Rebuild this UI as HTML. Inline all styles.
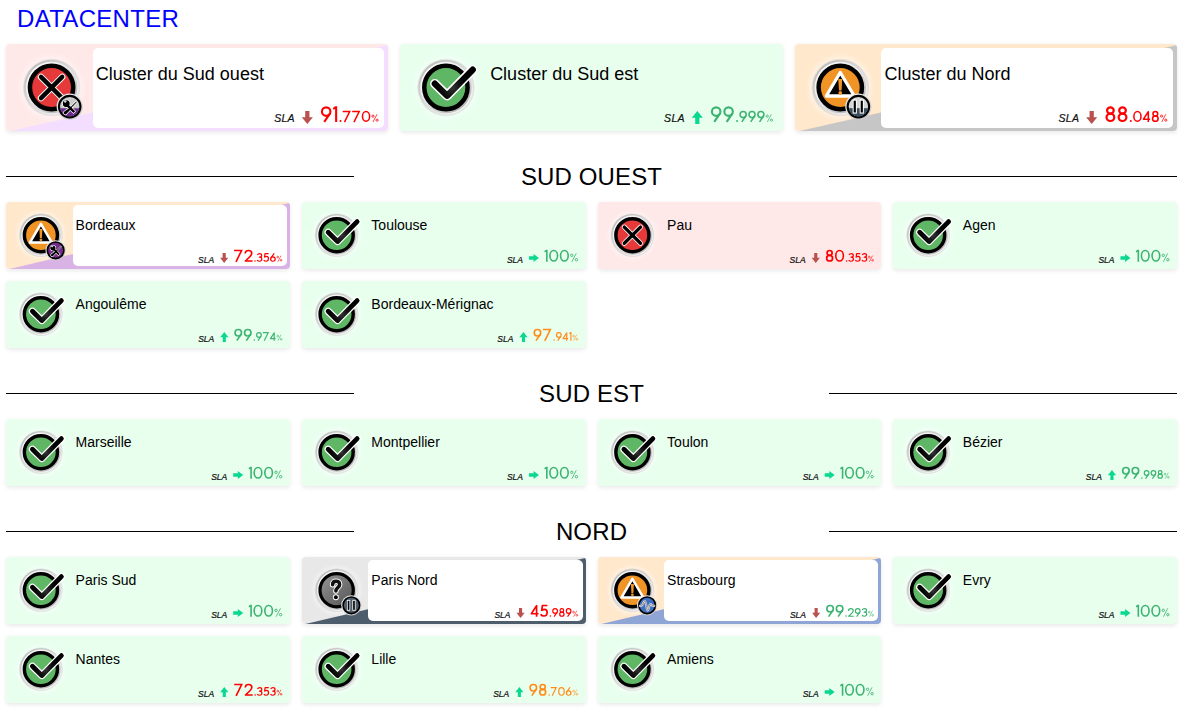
<!DOCTYPE html>
<html lang="fr"><head><meta charset="utf-8"><title>Datacenter</title>
<style>
html,body{margin:0;padding:0;background:#fff}
body{width:1183px;height:712px;overflow:hidden;position:relative;font-family:"Liberation Sans",sans-serif;color:#000;font-kerning:none}
.title{position:absolute;left:17px;top:5px;font-size:24px;line-height:28px;color:#0000ff;white-space:nowrap;letter-spacing:.3px;font-kerning:normal}
.card{position:absolute;border-radius:4px;box-shadow:0 1.5px 4px rgba(0,0,0,.085);box-sizing:border-box}
.cl{width:382.33px;height:87px}
.sm{width:283.75px;height:67px}
.in{position:absolute;background:#fff;border-radius:5px}
.cl .in{left:86.5px;top:4px;right:4px;bottom:3px}
.sm .in{left:66.6px;top:3px;right:2.8px;bottom:2.8px}
.nm{position:absolute;white-space:nowrap;font-kerning:normal}
.cl .nm{left:89.8px;top:20px;font-size:18px;line-height:21px}
.sm .nm{left:69.6px;top:15px;font-size:14px;line-height:16px}
.l{position:absolute;font-style:italic;color:#111;white-space:nowrap;-webkit-text-stroke:.22px #111}
.cl .l{font-size:10.5px;line-height:12px;letter-spacing:.3px;top:68.0px;margin-right:-.3px}
.sm .l{font-size:8.5px;line-height:10px;letter-spacing:0;top:52.5px}
.ov{position:absolute;left:0;top:0;overflow:visible;pointer-events:none}
.sep{position:absolute;left:0;width:1183px;height:59px;text-align:center;font-size:24px}
.sep span{position:absolute;left:0;width:1183px;top:26px;line-height:28px;letter-spacing:.13px}
.ln{position:absolute;top:39px;height:1px;background:#000;width:347.7px}
.ln.l{left:6px}.ln.r{right:6px}

</style></head>
<body>
<svg width="0" height="0" style="position:absolute">
<defs>
<linearGradient id="g-ring" x1="0.15" y1="0.1" x2="0.85" y2="0.9"><stop offset="0" stop-color="#bebebe"/><stop offset="0.5" stop-color="#dcdcdc"/><stop offset="1" stop-color="#f4f4f4"/></linearGradient>
<linearGradient id="g-ring2" x1="0.15" y1="0.1" x2="0.85" y2="0.9"><stop offset="0" stop-color="#fafafa"/><stop offset="0.5" stop-color="#e6e6e6"/><stop offset="1" stop-color="#b2b2b2"/></linearGradient>
<radialGradient id="g-glow"><stop offset="0.76" stop-color="#fff" stop-opacity="0.5"/><stop offset="1" stop-color="#fff" stop-opacity="0"/></radialGradient>
<radialGradient id="g-chk" gradientUnits="userSpaceOnUse" cx="6" cy="0" r="15"><stop offset="0" stop-color="#363636"/><stop offset="0.5" stop-color="#141414"/><stop offset="1" stop-color="#000"/></radialGradient>
<radialGradient id="g-soft"><stop offset="0.9" stop-color="#9a9a9a" stop-opacity="0.55"/><stop offset="1" stop-color="#9a9a9a" stop-opacity="0"/></radialGradient>
<g id="base"><circle r="35" fill="url(#g-glow)"/><circle r="29.2" fill="url(#g-soft)"/><circle r="27.5" fill="url(#g-ring)"/><circle r="25.7" fill="url(#g-ring2)"/></g>
<g id="i-ok"><use href="#base"/><circle r="21.65" fill="#5fb766" stroke="#000" stroke-width="4.5"/>
<polyline points="-11.1,-3.8 1.2,8.2 26.8,-17.8" fill="none" stroke="#fff" stroke-width="9.5" stroke-linecap="round" stroke-linejoin="round"/>
<polyline points="-11.1,-3.8 1.2,8.2 26.8,-17.8" fill="none" stroke="url(#g-chk)" stroke-width="6.3" stroke-linecap="round" stroke-linejoin="round"/></g>
<g id="i-crit"><use href="#base"/><circle r="21.65" fill="#e6393a" stroke="#000" stroke-width="4.5"/>
<path d="M-10.6,-10.6L10.6,10.6M10.6,-10.6L-10.6,10.6" fill="none" stroke="#fff" stroke-width="6.4" stroke-linecap="round"/>
<path d="M-10.6,-10.6L10.6,10.6M10.6,-10.6L-10.6,10.6" fill="none" stroke="#000" stroke-width="4.4" stroke-linecap="round"/></g>
<g id="i-warn"><use href="#base"/><circle r="21.65" fill="#f09426" stroke="#000" stroke-width="4.5"/>
<path d="M0,-15L14,8.5H-14Z" fill="#000" stroke="#fff" stroke-width="3.3" stroke-linejoin="round"/>
<path d="M-2,-8.6h4l-0.7,11.6h-2.6z" fill="#f09426"/><circle cx="0" cy="5.3" r="1.85" fill="#f09426"/></g>
<g id="i-warn-s"><use href="#base"/><circle r="21.65" fill="#f09426" stroke="#000" stroke-width="4.5"/>
<path d="M0,-14.8L14.4,9.6H-14.4Z" fill="#000" stroke="#fff" stroke-width="3.3" stroke-linejoin="round"/>
<path d="M-2,-8.1h4l-0.7,11.8h-2.6z" fill="#f09426"/><circle cx="0" cy="6.1" r="1.85" fill="#f09426"/></g>
<linearGradient id="g-unk" x1="0.15" y1="0.1" x2="0.85" y2="0.9"><stop offset="0" stop-color="#8e8e8e"/><stop offset="0.5" stop-color="#747474"/><stop offset="1" stop-color="#5c5c5c"/></linearGradient>
<g id="i-unk"><use href="#base"/><circle r="21.8" fill="url(#g-unk)" stroke="#000" stroke-width="4.2"/>
<path d="M-5.3,-7.2C-5.3,-10.4 -3.2,-11.7 -0.7,-11.7C2.2,-11.7 3.9,-10 3.9,-7.6C3.9,-3.6 -1,-3.3 -1,1.2" fill="none" stroke="#fff" stroke-width="7.2" stroke-linecap="round"/><circle cx="-1" cy="9.3" r="3.9" fill="#fff"/>
<path d="M-5.3,-7.2C-5.3,-10.4 -3.2,-11.7 -0.7,-11.7C2.2,-11.7 3.9,-10 3.9,-7.6C3.9,-3.6 -1,-3.3 -1,1.2" fill="none" stroke="#111" stroke-width="4.6" stroke-linecap="round"/><circle cx="-1" cy="9.3" r="2.6" fill="#000"/></g>
<linearGradient id="g-bring" x1="0.2" y1="0" x2="0.8" y2="1"><stop offset="0" stop-color="#f4f4f4"/><stop offset="1" stop-color="#c4c4c4"/></linearGradient>
<clipPath id="bclip"><circle r="9.8"/></clipPath>
<g id="tools-shape">
<path d="M-2.2,-3.6L5.2,3.8L3.4,5.6L-4,-1.8Z"/>
<path d="M-6.9,-4.2A3.3,3.3 0 1 0 -2.6,-6.9L-4.4,-5.1L-5.1,-3.6Z M-4.2,-7.3"/>
<circle cx="-4.1" cy="-4.1" r="3.1"/>
<path d="M6.3,-6.1L6.9,-5.5L1.2,0.6L0.4,-0.2Z"/>
<path d="M0.9,-0.6L2,0.5L-3.4,6.3A1.6,1.6 0 0 1 -5.9,4.2Z"/>
</g>
<g id="tools-glyph" transform="translate(0.3,0.9)"><use href="#tools-shape" fill="#fff" stroke="#fff" stroke-width="1.3" stroke-linejoin="round"/><use href="#tools-shape" fill="#000"/><path d="M-4.9,-7.6L-3.2,-5.9L-4.9,-4.6L-6.4,-6.1Z" fill="#d4d4d4"/></g>
<g id="pause-glyph"><rect x="-5.7" y="-7" width="4.2" height="14" fill="#fff"/><rect x="1.3" y="-7" width="4.2" height="14" fill="#fff"/><rect x="-4.7" y="-5.9" width="2.2" height="11.8" fill="#000"/><rect x="2.3" y="-5.9" width="2.2" height="11.8" fill="#000"/></g>
<g id="b-tools"><circle r="13.1" fill="url(#g-bring)"/><circle r="10.75" fill="#762b8c" stroke="#000" stroke-width="2.1"/><use href="#tools-glyph"/></g>
<g id="b-tools-part"><circle r="13.1" fill="url(#g-bring)"/><circle r="10.75" fill="#cbcbcb" stroke="#000" stroke-width="2.1"/><rect x="-10" y="1.7" width="20" height="9" fill="#6c2a8c" clip-path="url(#bclip)"/><use href="#tools-glyph"/></g>
<g id="b-pause"><circle r="13.1" fill="url(#g-bring)"/><circle r="10.75" fill="#4e5d6c" stroke="#000" stroke-width="2.1"/><use href="#pause-glyph"/></g>
<g id="b-pause-part"><circle r="13.1" fill="url(#g-bring)"/><circle r="10.75" fill="#d6d6d6" stroke="#000" stroke-width="2.1"/><rect x="-10" y="1.6" width="20" height="9" fill="#3b4f60" clip-path="url(#bclip)"/><use href="#pause-glyph"/></g>
<g id="b-wave"><circle r="13.1" fill="url(#g-bring)"/><circle r="10.75" fill="#3f6fc2" stroke="#000" stroke-width="2.1"/>
<path d="M-9.4,0.7H-7.4C-5.2,0.7 -4.8,-5.6 -3,-5.6C-1,-5.6 -0.9,6.9 0.8,6.9C2.5,6.9 2.6,-1.5 4.3,-1.5C5.6,-1.5 5.8,0.7 7.4,0.7H9.4" fill="none" stroke="#e4e4e4" stroke-width="2.8" stroke-linecap="round"/>
<path d="M-9.4,0.7H-7.4C-5.2,0.7 -4.8,-5.6 -3,-5.6C-1,-5.6 -0.9,6.9 0.8,6.9C2.5,6.9 2.6,-1.5 4.3,-1.5C5.6,-1.5 5.8,0.7 7.4,0.7H9.4" fill="none" stroke="#555" stroke-width="0.8" stroke-linecap="round"/></g>
<g id="d0"><ellipse cx="267.5" cy="350" rx="220.5" ry="303" fill="none" stroke="currentColor" stroke-width="94"/></g>
<g id="d1"><path d="M98,0H190V700H98V118L22,158L0,78Z" fill="currentColor"/></g>
<g id="d2"><g transform="scale(1.02,1)"><path d="M50,225C50,120 130,47 240,47C350,47 422,118 422,208C422,290 378,345 300,420L62,653H470" fill="none" stroke="currentColor" stroke-width="94" stroke-linejoin="round"/></g></g>
<g id="d3"><g transform="scale(1.055,1)"><path d="M45,150C80,85 140,47 212,47C312,47 372,105 372,188C372,272 308,328 200,328C322,328 383,395 383,480C383,580 310,653 205,653C120,653 58,612 28,548" fill="none" stroke="currentColor" stroke-width="94" stroke-linejoin="round"/></g></g>
<g id="d4"><g transform="scale(1.035,1)"><path d="M342,700V52L52,522H450" fill="none" stroke="currentColor" stroke-width="94" stroke-linejoin="round"/></g></g>
<g id="d5"><g transform="scale(1.055,1)"><path d="M398,47H122L88,322C130,287 185,268 243,268C335,268 383,345 383,455C383,570 312,653 205,653C120,653 60,615 26,552" fill="none" stroke="currentColor" stroke-width="94" stroke-linejoin="round"/></g></g>
<g id="d6"><g transform="scale(1.05,1)"><path d="M322,10L78,380" fill="none" stroke="currentColor" stroke-width="94" /><circle cx="220" cy="480" r="173" fill="none" stroke="currentColor" stroke-width="94"/></g></g>
<g id="d7"><path d="M0,47H432L112,700" fill="none" stroke="currentColor" stroke-width="94" /></g>
<g id="d8"><g transform="scale(1.05,1)"><circle cx="217.5" cy="187" r="140" fill="none" stroke="currentColor" stroke-width="94"/><circle cx="217.5" cy="489" r="164" fill="none" stroke="currentColor" stroke-width="94"/></g></g>
<g id="d9"><circle cx="235" cy="235" r="188" fill="none" stroke="currentColor" stroke-width="94"/><path d="M392,338L150,690" fill="none" stroke="currentColor" stroke-width="94" /></g>
<g id="ddot"><circle cx="62" cy="638" r="62" fill="currentColor"/></g>
<g id="dpct"><circle cx="140" cy="172" r="98" fill="none" stroke="currentColor" stroke-width="72"/><circle cx="515" cy="528" r="98" fill="none" stroke="currentColor" stroke-width="72"/><path d="M505,8L150,692" fill="none" stroke="currentColor" stroke-width="66"/></g>

</defs></svg>

<a class="title">DATACENTER</a>
<div class="card cl" style="left:6.00px;top:44px;background:linear-gradient(to bottom right,#ffe8e8 calc(50.6% - .5px),#f3deff calc(50.6% + .5px));"><div class="in"></div><div class="nm">Cluster du Sud ouest</div><span class="l" style="right:93.75px">SLA</span></div>
<div class="card cl" style="left:400.33px;top:44px;background:#e8ffee;"><div class="nm">Cluster du Sud est</div><span class="l" style="right:98.10px">SLA</span></div>
<div class="card cl" style="left:794.67px;top:44px;background:linear-gradient(to bottom right,#ffe8cc calc(50.6% - .5px),#c6c6c6 calc(50.6% + .5px));"><div class="in"></div><div class="nm">Cluster du Nord</div><span class="l" style="right:98.06px">SLA</span></div>
<div class="sep" style="top:137px"><i class="ln l"></i><span>SUD OUEST</span><i class="ln r"></i></div>
<div class="card sm" style="left:6.00px;top:202px;background:linear-gradient(to bottom right,#ffe8cc calc(50.6% - .5px),#d9b3e6 calc(50.6% + .5px));"><div class="in"></div><div class="nm">Bordeaux</div><span class="l" style="right:75.67px">SLA</span></div>
<div class="card sm" style="left:301.75px;top:202px;background:#e8ffee;"><div class="nm">Toulouse</div><span class="l" style="right:62.56px">SLA</span></div>
<div class="card sm" style="left:597.50px;top:202px;background:#ffe8e8;"><div class="nm">Pau</div><span class="l" style="right:75.59px">SLA</span></div>
<div class="card sm" style="left:893.25px;top:202px;background:#e8ffee;"><div class="nm">Agen</div><span class="l" style="right:62.56px">SLA</span></div>
<div class="card sm" style="left:6.00px;top:281px;background:#e8ffee;"><div class="nm">Angoulême</div><span class="l" style="right:75.55px">SLA</span></div>
<div class="card sm" style="left:301.75px;top:281px;background:#e8ffee;"><div class="nm">Bordeaux-Mérignac</div><span class="l" style="right:72.10px">SLA</span></div>
<div class="sep" style="top:354px"><i class="ln l"></i><span>SUD EST</span><i class="ln r"></i></div>
<div class="card sm" style="left:6.00px;top:419px;background:#e8ffee;"><div class="nm">Marseille</div><span class="l" style="right:62.56px">SLA</span></div>
<div class="card sm" style="left:301.75px;top:419px;background:#e8ffee;"><div class="nm">Montpellier</div><span class="l" style="right:62.56px">SLA</span></div>
<div class="card sm" style="left:597.50px;top:419px;background:#e8ffee;"><div class="nm">Toulon</div><span class="l" style="right:62.56px">SLA</span></div>
<div class="card sm" style="left:893.25px;top:419px;background:#e8ffee;"><div class="nm">Bézier</div><span class="l" style="right:75.14px">SLA</span></div>
<div class="sep" style="top:492px"><i class="ln l"></i><span>NORD</span><i class="ln r"></i></div>
<div class="card sm" style="left:6.00px;top:557px;background:#e8ffee;"><div class="nm">Paris Sud</div><span class="l" style="right:62.56px">SLA</span></div>
<div class="card sm" style="left:301.75px;top:557px;background:linear-gradient(to bottom right,#e8e8e8 calc(50.6% - .5px),#4e5d6c calc(50.6% + .5px));"><div class="in"></div><div class="nm">Paris Nord</div><span class="l" style="right:75.04px">SLA</span></div>
<div class="card sm" style="left:597.50px;top:557px;background:linear-gradient(to bottom right,#ffe8cc calc(50.6% - .5px),#8fa5d6 calc(50.6% + .5px));"><div class="in"></div><div class="nm">Strasbourg</div><span class="l" style="right:75.22px">SLA</span></div>
<div class="card sm" style="left:893.25px;top:557px;background:#e8ffee;"><div class="nm">Evry</div><span class="l" style="right:62.56px">SLA</span></div>
<div class="card sm" style="left:6.00px;top:636px;background:#e8ffee;"><div class="nm">Nantes</div><span class="l" style="right:75.57px">SLA</span></div>
<div class="card sm" style="left:301.75px;top:636px;background:#e8ffee;"><div class="nm">Lille</div><span class="l" style="right:76.24px">SLA</span></div>
<div class="card sm" style="left:597.50px;top:636px;background:#e8ffee;"><div class="nm">Amiens</div><span class="l" style="right:62.56px">SLA</span></div>
<svg class="ov" width="1183" height="712" viewBox="0 0 1183 712">
<use href="#i-crit" transform="translate(51.60,87.50) scale(1.0)"/>
<use href="#b-tools-part" transform="translate(69.70,106.60) scale(1.0)"/>
<g fill="#ff0000" style="color:#ff0000"><use href="#d9" transform="translate(320.88,106.30) scale(0.02257)"/><use href="#d1" transform="translate(332.89,106.30) scale(0.02257)"/><use href="#ddot" transform="translate(339.48,110.80) scale(0.01614)"/><use href="#d7" transform="translate(342.70,110.80) scale(0.01614)"/><use href="#d7" transform="translate(352.18,110.80) scale(0.01614)"/><use href="#d0" transform="translate(361.72,110.80) scale(0.01614)"/><use href="#dpct" transform="translate(371.34,114.20) scale(0.01129)"/></g>
<path d="M305.21,111.00L309.45,111.00L309.45,117.20L312.88,117.20L307.33,124.00L301.78,117.20L305.21,117.20Z" fill="#b9514f"/>
<use href="#i-ok" transform="translate(445.93,87.50) scale(1.0)"/>
<g fill="#3cb371" style="color:#3cb371"><use href="#d9" transform="translate(710.87,106.30) scale(0.02257)"/><use href="#d9" transform="translate(723.28,106.30) scale(0.02257)"/><use href="#ddot" transform="translate(736.05,110.80) scale(0.01614)"/><use href="#d9" transform="translate(739.35,110.80) scale(0.01614)"/><use href="#d9" transform="translate(748.22,110.80) scale(0.01614)"/><use href="#d9" transform="translate(757.10,110.80) scale(0.01614)"/><use href="#dpct" transform="translate(765.67,114.20) scale(0.01129)"/></g>
<path d="M695.20,124.00L699.44,124.00L699.44,117.80L702.87,117.80L697.32,111.00L691.77,117.80L695.20,117.80Z" fill="#0ad890"/>
<use href="#i-warn" transform="translate(840.27,87.50) scale(1.0)"/>
<use href="#b-pause-part" transform="translate(858.37,106.60) scale(1.0)"/>
<g fill="#ff0000" style="color:#ff0000"><use href="#d8" transform="translate(1105.24,106.30) scale(0.02257)"/><use href="#d8" transform="translate(1117.36,106.30) scale(0.02257)"/><use href="#ddot" transform="translate(1129.83,110.80) scale(0.01614)"/><use href="#d0" transform="translate(1133.12,110.80) scale(0.01614)"/><use href="#d4" transform="translate(1142.60,110.80) scale(0.01614)"/><use href="#d8" transform="translate(1151.65,110.80) scale(0.01614)"/><use href="#dpct" transform="translate(1160.01,114.20) scale(0.01129)"/></g>
<path d="M1089.57,111.00L1093.81,111.00L1093.81,117.20L1097.24,117.20L1091.69,124.00L1086.14,117.20L1089.57,117.20Z" fill="#b9514f"/>
<use href="#i-warn-s" transform="translate(40.90,235.20) scale(0.764)"/>
<use href="#b-tools" transform="translate(55.60,250.30) scale(0.771)"/>
<g fill="#ff0000" style="color:#ff0000"><use href="#d7" transform="translate(234.08,249.70) scale(0.01729)"/><use href="#d2" transform="translate(244.30,249.70) scale(0.01729)"/><use href="#ddot" transform="translate(254.24,253.10) scale(0.01243)"/><use href="#d3" transform="translate(256.78,253.10) scale(0.01243)"/><use href="#d5" transform="translate(263.41,253.10) scale(0.01243)"/><use href="#d6" transform="translate(270.04,253.10) scale(0.01243)"/><use href="#dpct" transform="translate(276.55,255.60) scale(0.00886)"/></g>
<path d="M222.61,253.10L225.75,253.10L225.75,257.77L228.28,257.77L224.18,262.90L220.08,257.77L222.61,257.77Z" fill="#b9514f"/>
<use href="#i-ok" transform="translate(336.65,235.20) scale(0.764)"/>
<g fill="#3cb371" style="color:#3cb371"><use href="#d1" transform="translate(544.34,249.70) scale(0.01729)"/><use href="#d0" transform="translate(549.11,249.70) scale(0.01729)"/><use href="#d0" transform="translate(559.75,249.70) scale(0.01729)"/><use href="#dpct" transform="translate(570.05,253.20) scale(0.01229)"/></g>
<path d="M528.94,256.15L528.94,259.65L533.56,259.65L533.56,261.90L538.94,257.90L533.56,253.90L533.56,256.15Z" fill="#0ad890"/>
<use href="#i-crit" transform="translate(632.40,235.20) scale(0.764)"/>
<g fill="#ff0000" style="color:#ff0000"><use href="#d8" transform="translate(825.66,249.70) scale(0.01729)"/><use href="#d0" transform="translate(834.94,249.70) scale(0.01729)"/><use href="#ddot" transform="translate(845.85,253.10) scale(0.01243)"/><use href="#d3" transform="translate(848.38,253.10) scale(0.01243)"/><use href="#d5" transform="translate(855.01,253.10) scale(0.01243)"/><use href="#d3" transform="translate(861.65,253.10) scale(0.01243)"/><use href="#dpct" transform="translate(868.05,255.60) scale(0.00886)"/></g>
<path d="M814.19,253.10L817.33,253.10L817.33,257.77L819.86,257.77L815.76,262.90L811.66,257.77L814.19,257.77Z" fill="#b9514f"/>
<use href="#i-ok" transform="translate(928.15,235.20) scale(0.764)"/>
<g fill="#3cb371" style="color:#3cb371"><use href="#d1" transform="translate(1135.84,249.70) scale(0.01729)"/><use href="#d0" transform="translate(1140.61,249.70) scale(0.01729)"/><use href="#d0" transform="translate(1151.24,249.70) scale(0.01729)"/><use href="#dpct" transform="translate(1161.55,253.20) scale(0.01229)"/></g>
<path d="M1120.44,256.15L1120.44,259.65L1125.06,259.65L1125.06,261.90L1130.44,257.90L1125.06,253.90L1125.06,256.15Z" fill="#0ad890"/>
<use href="#i-ok" transform="translate(40.90,314.20) scale(0.764)"/>
<g fill="#3cb371" style="color:#3cb371"><use href="#d9" transform="translate(234.20,328.70) scale(0.01729)"/><use href="#d9" transform="translate(243.71,328.70) scale(0.01729)"/><use href="#ddot" transform="translate(253.49,332.10) scale(0.01243)"/><use href="#d9" transform="translate(256.03,332.10) scale(0.01243)"/><use href="#d7" transform="translate(262.81,332.10) scale(0.01243)"/><use href="#d4" transform="translate(269.81,332.10) scale(0.01243)"/><use href="#dpct" transform="translate(276.55,334.60) scale(0.00886)"/></g>
<path d="M222.73,341.90L225.87,341.90L225.87,337.23L228.40,337.23L224.30,332.10L220.20,337.23L222.73,337.23Z" fill="#0ad890"/>
<use href="#i-ok" transform="translate(336.65,314.20) scale(0.764)"/>
<g fill="#ff8c1a" style="color:#ff8c1a"><use href="#d9" transform="translate(533.40,328.70) scale(0.01729)"/><use href="#d7" transform="translate(542.84,328.70) scale(0.01729)"/><use href="#ddot" transform="translate(553.33,332.10) scale(0.01243)"/><use href="#d9" transform="translate(555.87,332.10) scale(0.01243)"/><use href="#d4" transform="translate(562.35,332.10) scale(0.01243)"/><use href="#d1" transform="translate(569.10,332.10) scale(0.01243)"/><use href="#dpct" transform="translate(572.30,334.60) scale(0.00886)"/></g>
<path d="M521.93,341.90L525.06,341.90L525.06,337.23L527.60,337.23L523.50,332.10L519.40,337.23L521.93,337.23Z" fill="#0ad890"/>
<use href="#i-ok" transform="translate(40.90,452.20) scale(0.764)"/>
<g fill="#3cb371" style="color:#3cb371"><use href="#d1" transform="translate(248.59,466.70) scale(0.01729)"/><use href="#d0" transform="translate(253.36,466.70) scale(0.01729)"/><use href="#d0" transform="translate(264.00,466.70) scale(0.01729)"/><use href="#dpct" transform="translate(274.30,470.20) scale(0.01229)"/></g>
<path d="M233.19,473.15L233.19,476.65L237.81,476.65L237.81,478.90L243.19,474.90L237.81,470.90L237.81,473.15Z" fill="#0ad890"/>
<use href="#i-ok" transform="translate(336.65,452.20) scale(0.764)"/>
<g fill="#3cb371" style="color:#3cb371"><use href="#d1" transform="translate(544.34,466.70) scale(0.01729)"/><use href="#d0" transform="translate(549.11,466.70) scale(0.01729)"/><use href="#d0" transform="translate(559.75,466.70) scale(0.01729)"/><use href="#dpct" transform="translate(570.05,470.20) scale(0.01229)"/></g>
<path d="M528.94,473.15L528.94,476.65L533.56,476.65L533.56,478.90L538.94,474.90L533.56,470.90L533.56,473.15Z" fill="#0ad890"/>
<use href="#i-ok" transform="translate(632.40,452.20) scale(0.764)"/>
<g fill="#3cb371" style="color:#3cb371"><use href="#d1" transform="translate(840.09,466.70) scale(0.01729)"/><use href="#d0" transform="translate(844.86,466.70) scale(0.01729)"/><use href="#d0" transform="translate(855.50,466.70) scale(0.01729)"/><use href="#dpct" transform="translate(865.80,470.20) scale(0.01229)"/></g>
<path d="M824.69,473.15L824.69,476.65L829.31,476.65L829.31,478.90L834.69,474.90L829.31,470.90L829.31,473.15Z" fill="#0ad890"/>
<use href="#i-ok" transform="translate(928.15,452.20) scale(0.764)"/>
<g fill="#3cb371" style="color:#3cb371"><use href="#d9" transform="translate(1121.86,466.70) scale(0.01729)"/><use href="#d9" transform="translate(1131.37,466.70) scale(0.01729)"/><use href="#ddot" transform="translate(1141.15,470.10) scale(0.01243)"/><use href="#d9" transform="translate(1143.69,470.10) scale(0.01243)"/><use href="#d9" transform="translate(1150.52,470.10) scale(0.01243)"/><use href="#d8" transform="translate(1157.36,470.10) scale(0.01243)"/><use href="#dpct" transform="translate(1163.80,472.60) scale(0.00886)"/></g>
<path d="M1110.39,479.90L1113.53,479.90L1113.53,475.23L1116.06,475.23L1111.96,470.10L1107.86,475.23L1110.39,475.23Z" fill="#0ad890"/>
<use href="#i-ok" transform="translate(40.90,590.20) scale(0.764)"/>
<g fill="#3cb371" style="color:#3cb371"><use href="#d1" transform="translate(248.59,604.70) scale(0.01729)"/><use href="#d0" transform="translate(253.36,604.70) scale(0.01729)"/><use href="#d0" transform="translate(264.00,604.70) scale(0.01729)"/><use href="#dpct" transform="translate(274.30,608.20) scale(0.01229)"/></g>
<path d="M233.19,611.15L233.19,614.65L237.81,614.65L237.81,616.90L243.19,612.90L237.81,608.90L237.81,611.15Z" fill="#0ad890"/>
<use href="#i-unk" transform="translate(336.65,590.20) scale(0.764)"/>
<use href="#b-pause" transform="translate(351.35,605.30) scale(0.771)"/>
<g fill="#ff0000" style="color:#ff0000"><use href="#d4" transform="translate(530.46,604.70) scale(0.01729)"/><use href="#d5" transform="translate(540.15,604.70) scale(0.01729)"/><use href="#ddot" transform="translate(549.65,608.10) scale(0.01243)"/><use href="#d9" transform="translate(552.19,608.10) scale(0.01243)"/><use href="#d8" transform="translate(559.02,608.10) scale(0.01243)"/><use href="#d9" transform="translate(565.69,608.10) scale(0.01243)"/><use href="#dpct" transform="translate(572.30,610.60) scale(0.00886)"/></g>
<path d="M518.99,608.10L522.12,608.10L522.12,612.77L524.66,612.77L520.56,617.90L516.46,612.77L518.99,612.77Z" fill="#b9514f"/>
<use href="#i-warn-s" transform="translate(632.40,590.20) scale(0.764)"/>
<use href="#b-wave" transform="translate(647.10,605.30) scale(0.771)"/>
<g fill="#3cb371" style="color:#3cb371"><use href="#d9" transform="translate(826.03,604.70) scale(0.01729)"/><use href="#d9" transform="translate(835.54,604.70) scale(0.01729)"/><use href="#ddot" transform="translate(845.32,608.10) scale(0.01243)"/><use href="#d2" transform="translate(847.86,608.10) scale(0.01243)"/><use href="#d9" transform="translate(854.81,608.10) scale(0.01243)"/><use href="#d3" transform="translate(861.65,608.10) scale(0.01243)"/><use href="#dpct" transform="translate(868.05,610.60) scale(0.00886)"/></g>
<path d="M814.57,608.10L817.70,608.10L817.70,612.77L820.23,612.77L816.13,617.90L812.03,612.77L814.57,612.77Z" fill="#b9514f"/>
<use href="#i-ok" transform="translate(928.15,590.20) scale(0.764)"/>
<g fill="#3cb371" style="color:#3cb371"><use href="#d1" transform="translate(1135.84,604.70) scale(0.01729)"/><use href="#d0" transform="translate(1140.61,604.70) scale(0.01729)"/><use href="#d0" transform="translate(1151.24,604.70) scale(0.01729)"/><use href="#dpct" transform="translate(1161.55,608.20) scale(0.01229)"/></g>
<path d="M1120.44,611.15L1120.44,614.65L1125.06,614.65L1125.06,616.90L1130.44,612.90L1125.06,608.90L1125.06,611.15Z" fill="#0ad890"/>
<use href="#i-ok" transform="translate(40.90,669.20) scale(0.764)"/>
<g fill="#ff0000" style="color:#ff0000"><use href="#d7" transform="translate(234.18,683.70) scale(0.01729)"/><use href="#d2" transform="translate(244.40,683.70) scale(0.01729)"/><use href="#ddot" transform="translate(254.35,687.10) scale(0.01243)"/><use href="#d3" transform="translate(256.88,687.10) scale(0.01243)"/><use href="#d5" transform="translate(263.51,687.10) scale(0.01243)"/><use href="#d3" transform="translate(270.15,687.10) scale(0.01243)"/><use href="#dpct" transform="translate(276.55,689.60) scale(0.00886)"/></g>
<path d="M222.72,696.90L225.85,696.90L225.85,692.23L228.38,692.23L224.28,687.10L220.18,692.23L222.72,692.23Z" fill="#0ad890"/>
<use href="#i-ok" transform="translate(336.65,669.20) scale(0.764)"/>
<g fill="#ff8c1a" style="color:#ff8c1a"><use href="#d9" transform="translate(529.26,683.70) scale(0.01729)"/><use href="#d8" transform="translate(538.76,683.70) scale(0.01729)"/><use href="#ddot" transform="translate(548.32,687.10) scale(0.01243)"/><use href="#d7" transform="translate(550.80,687.10) scale(0.01243)"/><use href="#d0" transform="translate(558.15,687.10) scale(0.01243)"/><use href="#d6" transform="translate(565.79,687.10) scale(0.01243)"/><use href="#dpct" transform="translate(572.30,689.60) scale(0.00886)"/></g>
<path d="M517.79,696.90L520.92,696.90L520.92,692.23L523.46,692.23L519.36,687.10L515.26,692.23L517.79,692.23Z" fill="#0ad890"/>
<use href="#i-ok" transform="translate(632.40,669.20) scale(0.764)"/>
<g fill="#3cb371" style="color:#3cb371"><use href="#d1" transform="translate(840.09,683.70) scale(0.01729)"/><use href="#d0" transform="translate(844.86,683.70) scale(0.01729)"/><use href="#d0" transform="translate(855.50,683.70) scale(0.01729)"/><use href="#dpct" transform="translate(865.80,687.20) scale(0.01229)"/></g>
<path d="M824.69,690.15L824.69,693.65L829.31,693.65L829.31,695.90L834.69,691.90L829.31,687.90L829.31,690.15Z" fill="#0ad890"/>
</svg>
</body></html>
